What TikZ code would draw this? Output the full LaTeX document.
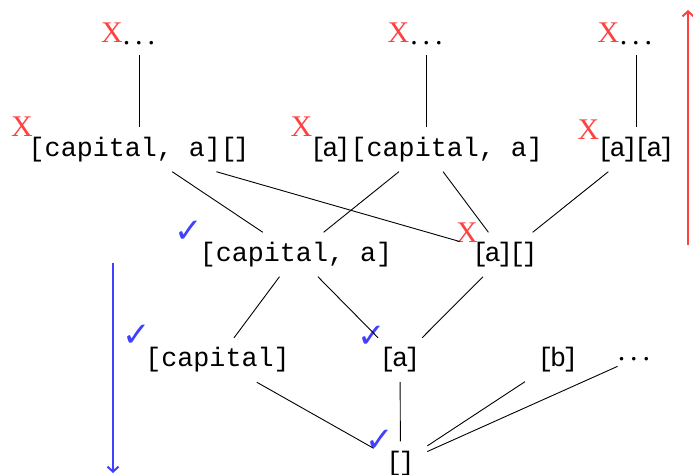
\documentclass[tikz,border=0pt]{standalone}
\usepackage{fontspec}
\setmainfont{Liberation Serif}
\setmonofont{Liberation Mono}
\newfontfamily\dvs{DejaVu Sans}
\newfontfamily\tightmono{Liberation Mono}[LetterSpace=-14]
\usetikzlibrary{arrows.meta}
\definecolor{xred}{RGB}{255,64,64}
\definecolor{okblue}{RGB}{64,64,255}
\newcommand\dotz{.\kern5pt.\kern5pt.}
\tikzset{
 st/.style={font=\fontsize{26.7}{30}\ttfamily, inner xsep=12.5pt, inner ysep=10.5pt, text height=18pt, text depth=5pt},
 dotnode/.style={font=\fontsize{30}{30}\selectfont, inner xsep=0pt, inner ysep=11pt, text height=3pt, text depth=0pt},
 xmark/.style={font=\fontsize{30}{30}\selectfont, text=xred, inner sep=0pt},
 ok/.style={font=\fontsize{34}{34}\dvs, text=okblue, inner sep=0pt},
 edge/.style={line width=0.9pt},
}
\begin{document}
\begin{tikzpicture}[x=1pt,y=-1pt]
\useasboundingbox (0,0) rectangle (693,474);
% top
\node[dotnode] (t1) at (139,42.5) {\dotz};
\node[dotnode] (t2) at (426.5,42.5) {\dotz};
\node[dotnode] (t3) at (636,42.5) {\dotz};
% row 2
\node[st] (r2a) at (139,149.5) {[capital, a]{\tightmono[]}};
\node[st] (r2b) at (426.5,149.5) {{\tightmono[a]}[capital, a]};
\node[st] (r2c) at (636,149.5) {\tightmono[a][a]};
% row 3
\node[st] (r3a) at (296,254.5) {[capital, a]};
\node[st] (r3b) at (505,254.5) {\tightmono[a][]};
% row 4
\node[st] (r4a) at (217.5,360) {[capital]};
\node[st] (r4b) at (400,360) {\tightmono[a]};
\node[st] (r4c) at (558,360) {\tightmono[b]};
\node[dotnode] (r4d) at (634,359) {\dotz};
% row 5
\node[st] (r5) at (400.5,463.5) {\tightmono[]};
% marks
\node[xmark] (x1) at (112,33) {X};
\node[xmark] (x2) at (398.5,33) {X};
\node[xmark] (x3) at (608.5,33) {X};
\node[xmark] (x4) at (22,127) {X};
\node[xmark] (x5) at (301.5,127) {X};
\node[xmark] (x6) at (588.5,130) {X};
\node[xmark] (x7) at (467,232.5) {X};
\node[ok] (c1) at (188.5,232) {✓};
\node[ok] (c2) at (137,336) {✓};
\node[ok] (c3) at (372,337) {✓};
\node[ok] (c4) at (379.5,441) {✓};
% edges
\draw[edge] (t1) -- (r2a);
\draw[edge] (t2) -- (r2b);
\draw[edge] (t3) -- (r2c);
\draw[edge] (r2a) -- (r3a);
\draw[edge] (r2a) -- (r3b);
\draw[edge] (r2b) -- (r3a);
\draw[edge] (r2b) -- (r3b);
\draw[edge] (r2c) -- (r3b);
\draw[edge] (r3a) -- (r4a);
\draw[edge] (r3a) -- (r4b);
\draw[edge] (r3b) -- (r4b);
\draw[edge] (r4a) -- (r5);
\draw[edge] (r4b) -- (r5);
\draw[edge] (r4c) -- (r5);
\draw[edge] (r4d) -- (r5);
% arrows
\coordinate (ra0) at (688,245);
\coordinate (ra1) at (688,10);
\draw[xred, line width=2pt, -{Straight Barb[length=5pt,width=11pt]}] (ra0) -- (ra1);
\coordinate (ba0) at (113,263);
\coordinate (ba1) at (113,473);
\draw[okblue, line width=2pt, -{Straight Barb[length=5pt,width=11pt]}] (ba0) -- (ba1);
\end{tikzpicture}
\end{document}
